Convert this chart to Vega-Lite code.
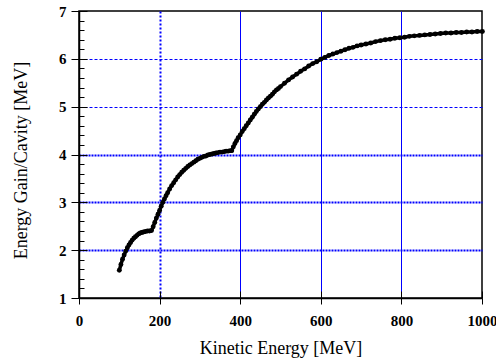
{
  "$schema": "https://vega.github.io/schema/vega-lite/v6.json",
  "width": 403,
  "height": 287,
  "autosize": "none",
  "padding": {"left": 79, "top": 11, "right": 14, "bottom": 60},
  "background": "white",
  "config": {
    "view": {"stroke": "black", "strokeWidth": 1.5},
    "font": "Liberation Serif",
    "axis": {"domainColor": "black", "tickColor": "black", "labelColor": "black", "titleColor": "black"}
  },
  "data": {"values": [
    {"ke": 100, "gain": 1.58}, {"ke": 104, "gain": 1.70}, {"ke": 108, "gain": 1.81}, {"ke": 112, "gain": 1.90},
    {"ke": 116, "gain": 1.98}, {"ke": 120, "gain": 2.05}, {"ke": 124, "gain": 2.11}, {"ke": 128, "gain": 2.16},
    {"ke": 132, "gain": 2.21}, {"ke": 136, "gain": 2.25}, {"ke": 140, "gain": 2.28}, {"ke": 144, "gain": 2.31},
    {"ke": 148, "gain": 2.34}, {"ke": 152, "gain": 2.36}, {"ke": 156, "gain": 2.37}, {"ke": 160, "gain": 2.38},
    {"ke": 165, "gain": 2.39}, {"ke": 170, "gain": 2.40}, {"ke": 175, "gain": 2.40}, {"ke": 180, "gain": 2.41},
    {"ke": 184, "gain": 2.49}, {"ke": 188, "gain": 2.58}, {"ke": 192, "gain": 2.67}, {"ke": 196, "gain": 2.75},
    {"ke": 200, "gain": 2.83}, {"ke": 204, "gain": 2.92}, {"ke": 208, "gain": 3.00}, {"ke": 212, "gain": 3.07},
    {"ke": 216, "gain": 3.14}, {"ke": 220, "gain": 3.20}, {"ke": 225, "gain": 3.28}, {"ke": 230, "gain": 3.35},
    {"ke": 235, "gain": 3.41}, {"ke": 240, "gain": 3.47}, {"ke": 245, "gain": 3.53}, {"ke": 250, "gain": 3.58},
    {"ke": 255, "gain": 3.63}, {"ke": 260, "gain": 3.67}, {"ke": 265, "gain": 3.71}, {"ke": 270, "gain": 3.75},
    {"ke": 275, "gain": 3.78}, {"ke": 280, "gain": 3.81}, {"ke": 285, "gain": 3.84}, {"ke": 290, "gain": 3.87},
    {"ke": 295, "gain": 3.90}, {"ke": 300, "gain": 3.92}, {"ke": 305, "gain": 3.94}, {"ke": 310, "gain": 3.96},
    {"ke": 315, "gain": 3.97}, {"ke": 320, "gain": 3.99}, {"ke": 325, "gain": 4.00}, {"ke": 330, "gain": 4.01},
    {"ke": 335, "gain": 4.02}, {"ke": 340, "gain": 4.03}, {"ke": 345, "gain": 4.04}, {"ke": 350, "gain": 4.05},
    {"ke": 355, "gain": 4.05}, {"ke": 360, "gain": 4.06}, {"ke": 365, "gain": 4.07}, {"ke": 370, "gain": 4.07},
    {"ke": 375, "gain": 4.08}, {"ke": 379, "gain": 4.08}, {"ke": 383, "gain": 4.16}, {"ke": 387, "gain": 4.23},
    {"ke": 391, "gain": 4.29}, {"ke": 395, "gain": 4.35}, {"ke": 400, "gain": 4.41}, {"ke": 405, "gain": 4.48},
    {"ke": 410, "gain": 4.54}, {"ke": 415, "gain": 4.60}, {"ke": 420, "gain": 4.66}, {"ke": 425, "gain": 4.72},
    {"ke": 430, "gain": 4.78}, {"ke": 435, "gain": 4.84}, {"ke": 440, "gain": 4.90}, {"ke": 445, "gain": 4.95},
    {"ke": 450, "gain": 5.00}, {"ke": 455, "gain": 5.05}, {"ke": 460, "gain": 5.09}, {"ke": 465, "gain": 5.14},
    {"ke": 470, "gain": 5.18}, {"ke": 475, "gain": 5.22}, {"ke": 480, "gain": 5.26}, {"ke": 485, "gain": 5.31},
    {"ke": 490, "gain": 5.35}, {"ke": 495, "gain": 5.38}, {"ke": 500, "gain": 5.42}, {"ke": 510, "gain": 5.49},
    {"ke": 520, "gain": 5.56}, {"ke": 530, "gain": 5.62}, {"ke": 540, "gain": 5.68}, {"ke": 550, "gain": 5.74},
    {"ke": 560, "gain": 5.79}, {"ke": 570, "gain": 5.85}, {"ke": 580, "gain": 5.90}, {"ke": 590, "gain": 5.94},
    {"ke": 600, "gain": 5.99}, {"ke": 610, "gain": 6.03}, {"ke": 620, "gain": 6.07}, {"ke": 630, "gain": 6.10},
    {"ke": 640, "gain": 6.13}, {"ke": 650, "gain": 6.16}, {"ke": 660, "gain": 6.19}, {"ke": 670, "gain": 6.22},
    {"ke": 680, "gain": 6.24}, {"ke": 690, "gain": 6.27}, {"ke": 700, "gain": 6.29}, {"ke": 712, "gain": 6.31},
    {"ke": 724, "gain": 6.33}, {"ke": 736, "gain": 6.36}, {"ke": 748, "gain": 6.38}, {"ke": 760, "gain": 6.40},
    {"ke": 772, "gain": 6.41}, {"ke": 784, "gain": 6.43}, {"ke": 796, "gain": 6.44}, {"ke": 808, "gain": 6.45},
    {"ke": 820, "gain": 6.47}, {"ke": 832, "gain": 6.48}, {"ke": 845, "gain": 6.49}, {"ke": 858, "gain": 6.50},
    {"ke": 871, "gain": 6.51}, {"ke": 884, "gain": 6.52}, {"ke": 897, "gain": 6.53}, {"ke": 910, "gain": 6.54},
    {"ke": 923, "gain": 6.54}, {"ke": 936, "gain": 6.55}, {"ke": 949, "gain": 6.55}, {"ke": 962, "gain": 6.56},
    {"ke": 975, "gain": 6.56}, {"ke": 988, "gain": 6.57}, {"ke": 1001, "gain": 6.57}
  ]},
  "layer": [
    {
      "mark": {"type": "line", "color": "black", "strokeWidth": 3.5, "interpolate": "linear"},
      "encoding": {
        "x": {"field": "ke", "type": "quantitative", "scale": {"domain": [0, 1000], "nice": false, "zero": false},
          "axis": {"orient": "bottom", "values": [0, 200, 400, 600, 800, 1000], "offset": -7, "tickSize": 7, "tickWidth": 1,
            "domain": false, "labels": false, "title": null, "grid": false, "zindex": 1}},
        "y": {"field": "gain", "type": "quantitative", "scale": {"domain": [1, 7], "nice": false, "zero": false},
          "axis": {"orient": "left", "values": [1, 2, 3, 4, 5, 6, 7], "offset": -8, "tickSize": 8, "tickWidth": 1,
            "domain": false, "labels": false, "title": null, "grid": false, "zindex": 1}}
      }
    },
    {
      "mark": {"type": "point", "filled": true, "color": "black", "size": 24, "opacity": 1},
      "encoding": {
        "x": {"field": "ke", "type": "quantitative", "scale": {"domain": [0, 1000], "nice": false, "zero": false},
          "axis": {"orient": "bottom", "values": [0, 200, 400, 600, 800, 1000], "format": "d",
            "title": "Kinetic Energy [MeV]", "titleFont": "Liberation Serif", "titleFontSize": 18, "titleFontWeight": "normal",
            "titleBaseline": "alphabetic", "titleY": 55,
            "labelFont": "Liberation Serif", "labelFontSize": 15, "labelFontWeight": "bold", "labelBaseline": "alphabetic",
            "labelPadding": 21.5, "labelFlush": false, "labelOverlap": false,
            "tickSize": 6, "tickWidth": 1, "domainWidth": 1.5,
            "grid": true, "gridColor": "#0000ff",
            "gridDash": {"condition": {"test": "datum.value == 200", "value": [2, 2]}, "value": []},
            "gridWidth": {"condition": {"test": "datum.value == 200", "value": 2}, "value": 1},
            "gridOpacity": {"condition": {"test": "datum.value == 0 || datum.value == 1000", "value": 0}, "value": 1}}},
        "y": {"field": "gain", "type": "quantitative", "scale": {"domain": [1, 7], "nice": false, "zero": false},
          "axis": {"orient": "left",
            "values": [1, 1.2, 1.4, 1.6, 1.8, 2, 2.2, 2.4, 2.6, 2.8, 3, 3.2, 3.4, 3.6, 3.8, 4, 4.2, 4.4, 4.6, 4.8, 5, 5.2, 5.4, 5.6, 5.8, 6, 6.2, 6.4, 6.6, 6.8, 7],
            "title": "Energy Gain/Cavity [MeV]", "titleFont": "Liberation Serif", "titleFontSize": 18, "titleFontWeight": "normal",
            "titleBaseline": "alphabetic", "titleX": -53, "titleY": 149,
            "labelExpr": "datum.value == round(datum.value) ? format(datum.value, 'd') : ''",
            "labelFont": "Liberation Serif", "labelFontSize": 15, "labelFontWeight": "bold",
            "labelPadding": 5, "labelFlush": false, "labelOverlap": false,
            "tickSize": {"condition": {"test": "datum.value == round(datum.value)", "value": 8}, "value": -5},
            "tickWidth": 1, "domainWidth": 1.5,
            "grid": true, "gridColor": "#0000ff",
            "gridOpacity": {"condition": {"test": "datum.value == round(datum.value) && datum.value > 1 && datum.value < 7", "value": 1}, "value": 0},
            "gridDash": {"condition": {"test": "datum.value <= 4", "value": [2, 1]}, "value": [3, 2]},
            "gridWidth": {"condition": {"test": "datum.value <= 4", "value": 2}, "value": 1}}}
      }
    }
  ],
  "resolve": {"axis": {"x": "independent", "y": "independent"}}
}
